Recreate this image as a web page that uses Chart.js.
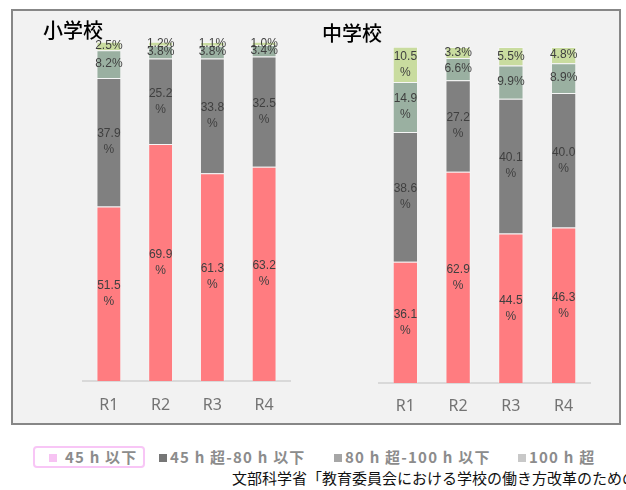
<!DOCTYPE html>
<html>
<head>
<meta charset="utf-8">
<script src="https://cdn.jsdelivr.net/npm/chart.js@4/dist/chart.umd.min.js"></script>
<style>
  body { margin: 0; width: 626px; height: 490px; background: #fff; position: relative; overflow: hidden;
         font-family: "Noto Sans CJK JP", "Noto Sans", sans-serif; }
  #panel { position: absolute; left: 11px; top: 9px; width: 606px; height: 412px;
           background: #f2f2f2; border: 2px solid #878787; }
  canvas { position: absolute; }
  .ttl { position: absolute; font-size: 20px; line-height: 20px; color: #000; font-weight: 500; }
  .leg { position: absolute; top: 448px; font-size: 15px; line-height: 18px; color: #8c8c8c; font-weight: bold;
         letter-spacing: 1.2px; white-space: nowrap; }
  .leg i { display: inline-block; width: 8px; height: 8px; margin-right: 3px; vertical-align: 1px; }
  #sel { position: absolute; left: 33px; top: 446px; width: 108px; height: 18px; border: 2px solid #f8c6f6; border-radius: 4px; }
  #src { position: absolute; left: 232px; top: 468px; font-size: 15px; line-height: 20px; color: #111; white-space: nowrap; }
</style>
</head>
<body>
<div id="panel"></div>
<canvas id="c1" width="290" height="410" style="left:14px;top:12px;width:290px;height:410px"></canvas>
<canvas id="c2" width="305" height="410" style="left:310px;top:12px;width:305px;height:410px"></canvas>
<div class="ttl" style="left:43px;top:20px">小学校</div>
<div class="ttl" style="left:322px;top:23px">中学校</div>
<div id="sel"></div>
<div class="leg" style="left:49px"><i style="background:#f7c3f3;margin-right:8px"></i>45 h 以下</div>
<div class="leg" style="left:159px"><i style="background:#767676"></i>45 h 超-80 h 以下</div>
<div class="leg" style="left:334px"><i style="background:#a6a6a6"></i>80 h 超-100 h 以下</div>
<div class="leg" style="left:518px"><i style="background:#c8c8c8"></i>100 h 超</div>
<div id="src">文部科学省「教育委員会における学校の働き方改革のための</div>
<script>
const years = ['R1', 'R2', 'R3', 'R4'];
const seriesNames = ['45 h 以下', '45 h 超-80 h 以下', '80 h 超-100 h 以下', '100 h 超'];
const colors = ['#ff7c80', '#808080', '#9ab0a1', '#c9dc9f'];

// 小学校
const elemUnder45 = [51.5, 69.9, 61.3, 63.2];
const elem45to80 = [37.9, 25.2, 33.8, 32.5];
const elem80to100 = [8.2, 3.8, 3.8, 3.4];
const elemOver100 = [2.5, 1.2, 1.1, 1.0];

// 中学校
const juniorUnder45 = [36.1, 62.9, 44.5, 46.3];
const junior45to80 = [38.6, 27.2, 40.1, 40.0];
const junior80to100 = [14.9, 6.6, 9.9, 8.9];
const juniorOver100 = [10.5, 3.3, 5.5, 4.8];

// draw value labels centred in each segment, wrapping "%" onto a second line for wide values
const segLabels = {
  id: 'segLabels',
  afterDatasetsDraw(chart) {
    const ctx = chart.ctx;
    ctx.save();
    ctx.font = '12px "Liberation Sans", sans-serif';
    ctx.fillStyle = '#3f3f3f';
    ctx.textAlign = 'center';
    ctx.textBaseline = 'middle';
    chart.data.datasets.forEach((ds, i) => {
      const meta = chart.getDatasetMeta(i);
      meta.data.forEach((bar, j) => {
        const v = ds.data[j];
        const p = bar.getProps(['x', 'y', 'base'], true);
        const cy = (p.y + p.base) / 2;
        if (v >= 10) {
          ctx.fillText(v.toFixed(1), p.x, cy - 8);
          ctx.fillText('%', p.x, cy + 8);
        } else {
          ctx.fillText(v.toFixed(1) + '%', p.x, cy);
        }
      });
    });
    ctx.restore();
  }
};

function makeChart(id, sets, pad, tickPad) {
  const ctx = document.getElementById(id).getContext('2d');
  return new Chart(ctx, {
    type: 'bar',
    data: {
      labels: years,
      datasets: sets.map((d, i) => ({
        label: seriesNames[i],
        data: d,
        backgroundColor: colors[i],
        borderColor: 'rgba(255,255,255,0.3)',
        borderWidth: 1,
        categoryPercentage: 1,
        barPercentage: 0.48
      }))
    },
    options: {
      responsive: false,
      animation: false,
      layout: { padding: pad },
      plugins: { legend: { display: false }, tooltip: { enabled: false } },
      scales: {
        x: {
          stacked: true,
          grid: { display: false, drawTicks: false },
          border: { display: true, color: '#d9d9d9', width: 2 },
          ticks: { color: '#737373', padding: tickPad, font: { size: 16, family: '"Noto Sans", sans-serif' } },
          afterFit(axis) { axis.height = 35; }
        },
        y: { stacked: true, display: false, min: 0, max: 100 }
      }
    },
    plugins: [segLabels]
  });
}

makeChart('c1', [elemUnder45, elem45to80, elem80to100, elemOver100],
  { left: 69, right: 14, top: 30, bottom: 6 }, 15);
makeChart('c2', [juniorUnder45, junior45to80, junior80to100, juniorOver100],
  { left: 69, right: 25, top: 35, bottom: 4 }, 14);
</script>
</body>
</html>
